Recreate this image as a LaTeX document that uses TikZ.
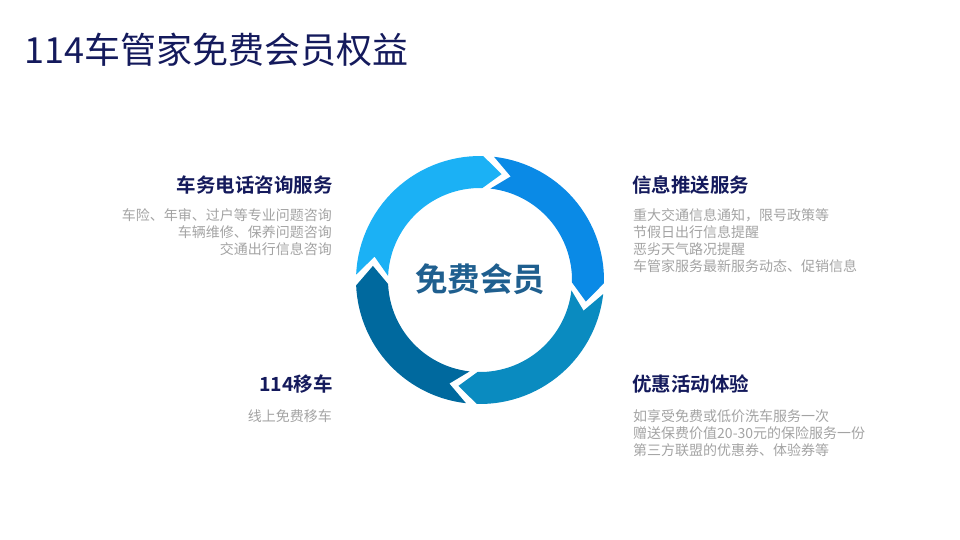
\documentclass[tikz,border=0pt]{standalone}
\usepackage{fontspec}
\setmainfont{Noto Sans CJK SC}
\newfontfamily\cjkb{Noto Sans CJK SC Bold}
\definecolor{navy}{HTML}{141A5C}
\definecolor{gtxt}{HTML}{A3A3A3}
\definecolor{cA}{HTML}{1BB1F5}
\definecolor{cB}{HTML}{0A8AE6}
\definecolor{cC}{HTML}{0A8BC0}
\definecolor{cD}{HTML}{00699E}
\definecolor{ctr}{HTML}{1F5F8F}
\begin{document}
\begin{tikzpicture}[x=1pt,y=-1pt,
  head/.style={font=\cjkb\fontsize{19.5}{22}\selectfont,text=navy,inner sep=0pt},
  body/.style={font=\fontsize{14}{17.2}\selectfont,text=gtxt,inner sep=0pt,align=left},
  bodyr/.style={font=\fontsize{14}{17.2}\selectfont,text=gtxt,inner sep=0pt,align=right}]
\useasboundingbox (0,0) rectangle (960,540);
\node[anchor=west,inner sep=0pt,text=navy,font=\fontsize{36}{40}\selectfont] (title) at (24,50) {114车管家免费会员权益};
\def\R{124}\def\r{92}\def\m{108}\def\d{10}
\newcommand{\seg}[3]{%
  \pgfmathsetmacro{\a}{#1-2.5}\pgfmathsetmacro{\b}{#2+2.5}
  \pgfmathsetmacro{\an}{\a-\d}\pgfmathsetmacro{\bt}{\b-\d}
  \fill[#3] ({480+\R*cos(\a)},{280-\R*sin(\a)})
    \foreach \t in {1,...,30}{ -- ({480+\R*cos(\a+(\b-\a)*\t/30)},{280-\R*sin(\a+(\b-\a)*\t/30)})}
    -- ({480+\m*cos(\bt)},{280-\m*sin(\bt)})
    -- ({480+\r*cos(\b)},{280-\r*sin(\b)})
    \foreach \t in {1,...,30}{ -- ({480+\r*cos(\b+(\a-\b)*\t/30)},{280-\r*sin(\b+(\a-\b)*\t/30)})}
    -- ({480+\m*cos(\an)},{280-\m*sin(\an)}) -- cycle;}
\seg{180}{86}{cA}
\seg{86}{-4}{cB}
\seg{-4}{-94}{cC}
\seg{-94}{-180}{cD}
\node[font=\cjkb\fontsize{32.5}{36}\selectfont,text=ctr] (ctr) at (480,279) {免费会员};
\node[head,anchor=east] (h1) at (333,185) {车务电话咨询服务};
\node[bodyr,anchor=north east] (b1) at (332,208) {车险、年审、过户等专业问题咨询\\车辆维修、保养问题咨询\\交通出行信息咨询};
\node[head,anchor=west] (h2) at (632,185) {信息推送服务};
\node[body,anchor=north west] (b2) at (633,208) {重大交通信息通知，限号政策等\\节假日出行信息提醒\\恶劣天气路况提醒\\车管家服务最新服务动态、促销信息};
\node[head,anchor=east] (h3) at (333,384) {114移车};
\node[bodyr,anchor=north east] (b3) at (332,409) {线上免费移车};
\node[head,anchor=west] (h4) at (632,384) {优惠活动体验};
\node[body,anchor=north west] (b4) at (633,409) {如享受免费或低价洗车服务一次\\赠送保费价值20-30元的保险服务一份\\第三方联盟的优惠券、体验券等};
\end{tikzpicture}
\end{document}
